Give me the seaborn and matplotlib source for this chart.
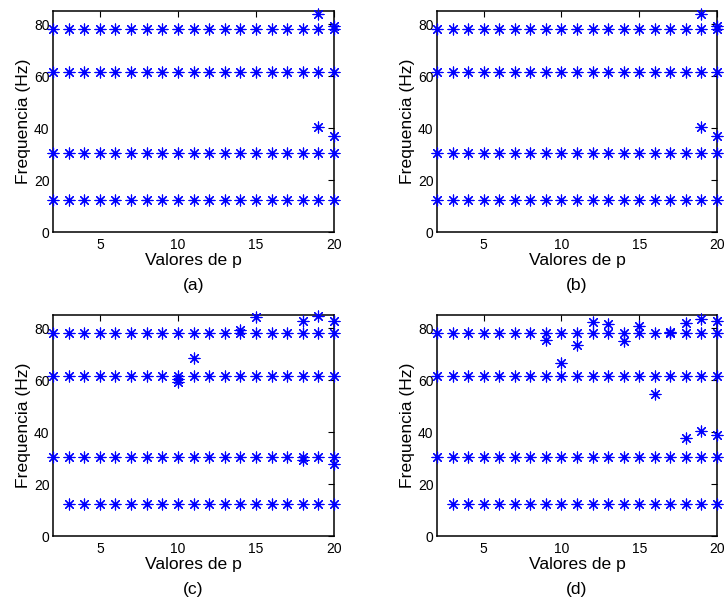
import matplotlib
matplotlib.use("Agg")
import matplotlib.pyplot as plt
import numpy as np
import pandas as pd
import seaborn as sns

sns.set_theme(style="white")
plt.rcParams["font.family"] = ["Liberation Sans", "DejaVu Sans"]
plt.rcParams["text.color"] = "black"
plt.rcParams["axes.labelcolor"] = "black"

# Model order values and the stable modal frequencies found at each order
p_values = [2, 3, 4, 5, 6, 7, 8, 9, 10, 11, 12, 13, 14, 15, 16, 17, 18, 19, 20]
modal_freqs = [12.3, 30.2, 61.6, 78.2]

# First p at which the lowest mode is identified, per panel
first_p_low_mode = {"a": 2, "b": 2, "c": 3, "d": 3}

# Spurious poles (p, frequency) per panel
extra_p_a = [19, 19, 20, 20]
extra_f_a = [83.9, 40.2, 79.3, 36.8]

extra_p_b = [19, 19, 20, 20]
extra_f_b = [83.9, 40.2, 79.3, 36.8]

extra_p_c = [10, 10, 11, 14, 15, 18, 18, 19, 20, 20]
extra_f_c = [60.4, 59.2, 68.5, 79.3, 84.4, 82.8, 29.1, 84.7, 82.8, 27.6]

extra_p_d = [9, 10, 11, 12, 13, 14, 15, 16, 17, 18, 18, 19, 19, 20, 20]
extra_f_d = [75.5, 66.5, 73.6, 82.5, 81.5, 75.1, 80.6, 54.7, 78.6, 82.1, 37.8, 83.4, 40.2, 82.8, 38.8]

extras = {
    "a": (extra_p_a, extra_f_a),
    "b": (extra_p_b, extra_f_b),
    "c": (extra_p_c, extra_f_c),
    "d": (extra_p_d, extra_f_d),
}


def panel_frame(key):
    rows = []
    for f in modal_freqs:
        for p in p_values:
            if f == modal_freqs[0] and p < first_p_low_mode[key]:
                continue
            rows.append((p, f))
    for p, f in zip(*extras[key]):
        rows.append((p, f))
    return pd.DataFrame(rows, columns=["p", "freq"])


W, H = 728, 601
fig = plt.figure(figsize=(W / 100, H / 100), dpi=100)

# axes boxes in pixels: left, top, right, bottom
boxes = {
    "a": (53, 11, 334, 232),
    "b": (437, 11, 717, 232),
    "c": (53, 315, 334, 536),
    "d": (437, 315, 717, 536),
}

asterisk = (8, 2, 0)

for key, (l, t, r, b) in boxes.items():
    ax = fig.add_axes([l / W, 1 - b / H, (r - l) / W, (b - t) / H])
    df = panel_frame(key)
    sns.scatterplot(data=df, x="p", y="freq", marker=asterisk, color=(0, 0, 1),
                    s=62, linewidth=0.85, ax=ax, legend=False, clip_on=False, zorder=3)
    ax.set_xlim(2, 20)
    ax.set_ylim(0, 85)
    ax.set_xticks([5, 10, 15, 20])
    ax.set_yticks([0, 20, 40, 60, 80])
    ax.tick_params(direction="in", length=4, width=0.8, top=True, right=True,
                   labelsize=10, colors="black")
    ax.tick_params(axis="x", pad=4)
    ax.tick_params(axis="y", pad=2.5)
    for s in ax.spines.values():
        s.set_visible(True)
        s.set_color("black")
        s.set_linewidth(1.1)
    ax.set_xlabel("Valores de p", fontsize=12.6, labelpad=1)
    ax.set_ylabel("Frequencia (Hz)", fontsize=12.6, labelpad=2)
    ax.text(0.5, -0.24, f"({key})", transform=ax.transAxes, ha="center",
            va="center", fontsize=12.6)
    ax.set_facecolor("white")

fig.savefig("out.png", dpi=100, facecolor="white")
